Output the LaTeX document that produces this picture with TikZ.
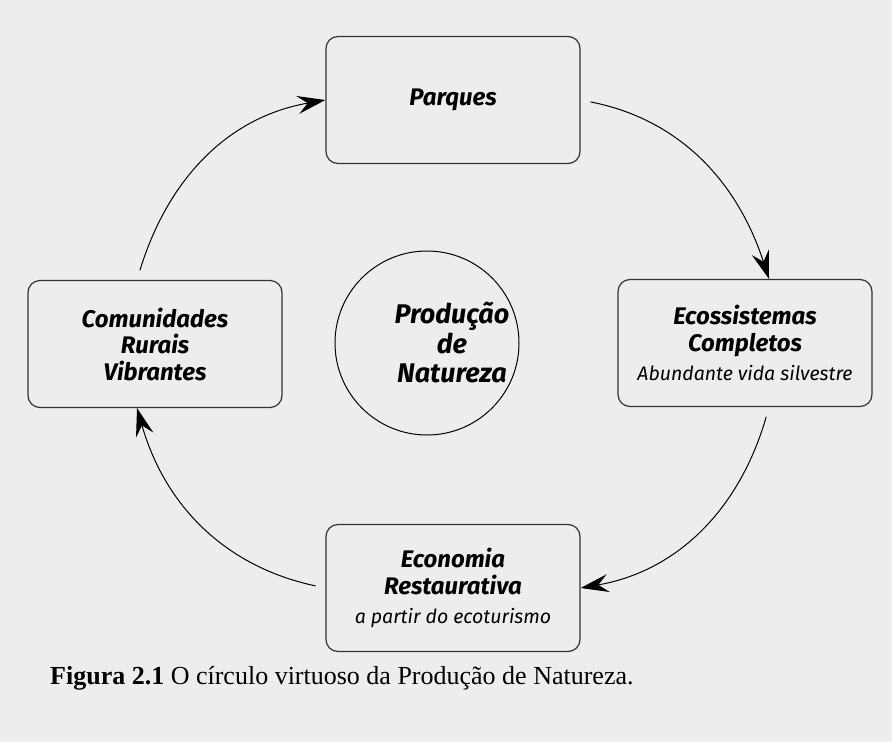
\documentclass[tikz,border=0pt]{standalone}
\usepackage{fontspec}
\usetikzlibrary{arrows.meta}
\newfontfamily\maofont{Fira Sans}
\newfontfamily\legfont{Liberation Serif}
\definecolor{fundo}{HTML}{EDEDED}
\definecolor{borda}{HTML}{333333}
\newcommand{\titulo}{\fontsize{24}{26.5}\selectfont\maofont\bfseries\itshape}
\newcommand{\nota}{\fontsize{19.5}{26.5}\selectfont\maofont\mdseries\itshape}
\tikzset{
  etapa/.style={draw=borda, line width=1.2pt, rounded corners=12pt, fill=fundo,
    minimum width=254pt, minimum height=127pt, align=center, font=\titulo},
  ciclo/.style={-{Stealth[length=28pt, width=18pt, inset=10pt]}, line width=1pt, shorten <=10pt}
}
\begin{document}
\begin{tikzpicture}[x=1pt, y=1pt]
      \fill[fundo] (0,0) rectangle (892,-742);
      \useasboundingbox (0,0) rectangle (892,-742);

      \node[etapa] (parques) at (453,-100) {Parques};
      \node[etapa] (ecossist) at (745,-343) {Ecossistemas\\Completos\\[3pt]{\nota Abundante vida silvestre}};
      \node[etapa] (economia) at (453,-588) {Economia\\Restaurativa\\[3pt]{\nota a partir do ecoturismo}};
      \node[etapa] (comunid) at (155,-344) {Comunidades\\Rurais\\Vibrantes};

      \node[circle, draw, line width=1pt, minimum size=184pt] (nucleo) at (427,-343) {};
      \node[align=center, font=\fontsize{27}{29.5}\selectfont\maofont\bfseries\itshape] (producao) at (452,-343) {Produção\\de\\Natureza};

      \draw[ciclo] ([xshift=-18pt]comunid.north) to[out=73, in=190] (parques.west);
      \draw[ciclo] (parques.east) to[out=-11, in=108] ([xshift=24pt]ecossist.north);
      \draw[ciclo] ([xshift=24pt]ecossist.south) to[out=-106, in=10] (economia.east);
      \draw[ciclo] (economia.west) to[out=168, in=-74] ([xshift=-18pt]comunid.south);

      \node[anchor=base west, inner sep=0pt, font=\fontsize{26}{30}\selectfont\legfont] (legenda) at (50,-684) {\textbf{Figura 2.1} O círculo virtuoso da Produção de Natureza.};
    \end{tikzpicture}
\end{document}
